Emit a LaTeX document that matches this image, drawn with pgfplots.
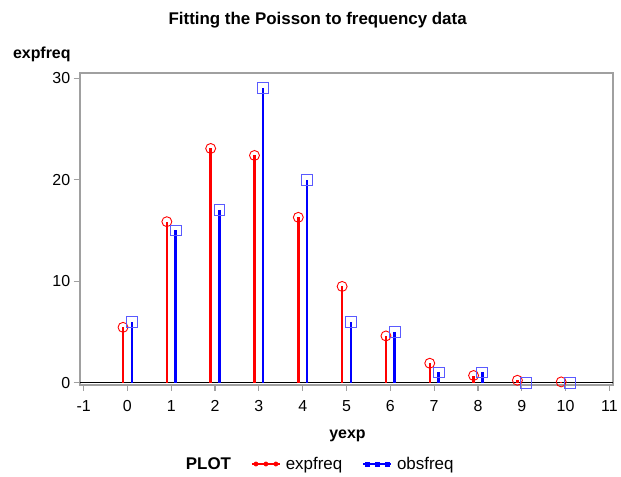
\documentclass[border=0pt]{standalone}
\usepackage{pgfplots}
\pgfplotsset{compat=1.18}
\usepackage{fontspec}
\setmainfont{Liberation Sans}
\definecolor{sqblue}{RGB}{90,90,255}
\definecolor{framegray}{RGB}{160,160,160}

\begin{document}
\begin{tikzpicture}[x=1pt,y=1pt]
\path (0,0) rectangle (621,479);
\begin{axis}[
  at={(80pt,92.5pt)}, anchor=south west,
  scale only axis, width=536pt, height=313pt,
  xmin=-1.09, xmax=11.09, ymin=-0.22, ymax=30.5,
  xtick={-1,0,...,11}, ytick={0,10,20,30},
  tick align=outside, xtick pos=bottom, ytick pos=left,
  major tick length=6pt,
  tick style={framegray, line width=1.2pt},
  axis line style={framegray, line width=1.8pt},
  tick label style={font=\fontsize{16}{19}\selectfont},
  xticklabel style={yshift=-6pt},
  /pgf/number format/assume math mode=true,
  clip=false,
  legend style={at={(0.447,-0.254)}, anchor=center, draw=none, fill=none,
    font=\fontsize{17}{20}\selectfont,
    /tikz/every odd column/.append style={column sep=3pt},
    /tikz/every even column/.append style={column sep=18pt}},
  legend columns=-1,
]
\draw[black, line width=1pt] (axis cs:-1.09,0) -- (axis cs:11.09,0);

% expected Poisson frequencies (needles left of the tick)
\addplot[ycomb, red, line width=2.5pt, mark=o, mark size=5pt,
  mark options={solid, line width=0.9pt, draw=red, fill=none}, forget plot]
  coordinates {
  (-0.1,5.45)(0.9,15.86)(1.9,23.08)(2.9,22.39)(3.9,16.29)(4.9,9.48)
  (5.9,4.60)(6.9,1.91)(7.9,0.70)(8.9,0.23)(9.9,0.07)
};
% observed frequencies
\addplot[ycomb, blue, line width=2.5pt, mark=square, mark size=5.5pt,
  mark options={solid, line width=0.9pt, draw=sqblue, fill=none}, forget plot]
  coordinates {
  (0.1,6)(1.1,15)(2.1,17)(3.1,29)(4.1,20)(5.1,6)
  (6.1,5)(7.1,1)(8.1,1)(9.1,0)(10.1,0)
};

\addlegendimage{empty legend}
\addlegendentry{\textbf{PLOT}}
\addlegendimage{legend image code/.code={
  \draw[red, line width=2pt] (0pt,0pt) -- (28pt,0pt);
  \foreach \p in {4,14,24} {\fill[red] (\p pt,0pt) circle (2.2pt);}
}}
\addlegendentry{expfreq}
\addlegendimage{legend image code/.code={
  \draw[blue, line width=2pt] (0pt,0pt) -- (28pt,0pt);
  \foreach \p in {4,14,24} {\fill[blue] (\p pt-2pt,-2pt) rectangle (\p pt+2pt,2pt);}
}}
\addlegendentry{obsfreq}
\end{axis}
\node[font=\bfseries\fontsize{17}{20}\selectfont] at (319,459) {Fitting the Poisson to frequency data};
\node[font=\bfseries\fontsize{16}{19}\selectfont] at (42,424) {expfreq};
\node[font=\bfseries\fontsize{16}{19}\selectfont] at (349,41) {yexp};
\end{tikzpicture}
\end{document}
